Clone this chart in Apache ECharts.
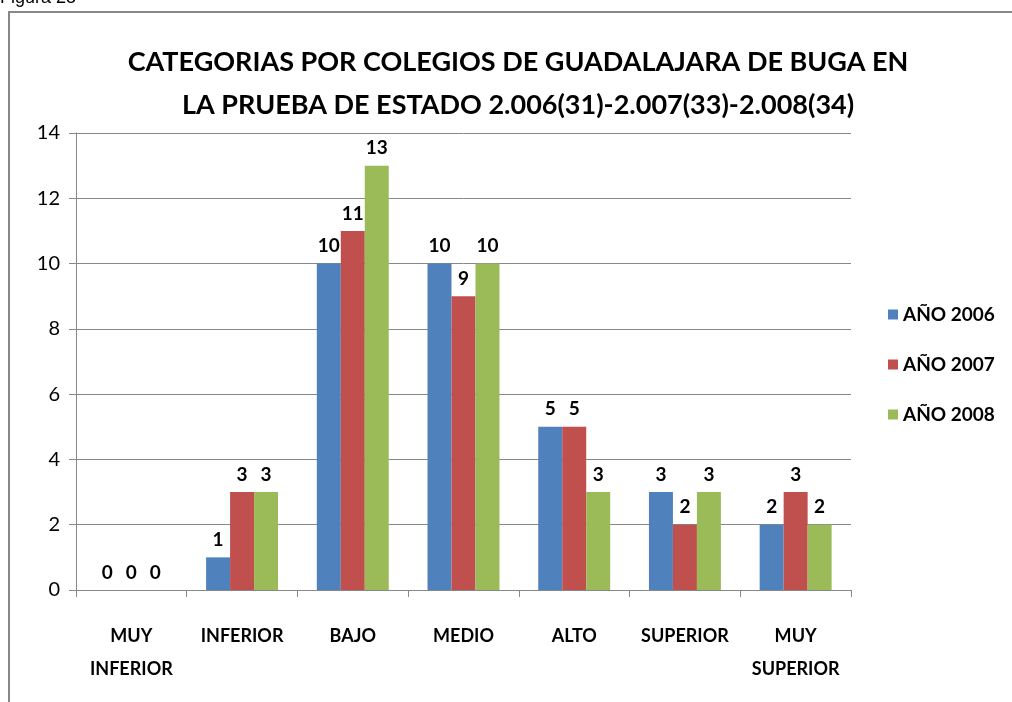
<!DOCTYPE html>
<html>
<head>
<meta charset="utf-8">
<script src="https://cdn.jsdelivr.net/npm/echarts@6/dist/echarts.min.js"></script>
<style>
  html, body { margin: 0; padding: 0; background: #fff; }
  #chart { width: 1012px; height: 702px; }
</style>
</head>
<body>
<div id="chart"></div>
<script>
// categorias del eje x
const categorias = ['MUY\nINFERIOR', 'INFERIOR', 'BAJO', 'MEDIO', 'ALTO', 'SUPERIOR', 'MUY\nSUPERIOR'];
// valores por año
const anio2006 = [0, 1, 10, 10, 5, 3, 2];
const anio2007 = [0, 3, 11, 9, 5, 2, 3];
const anio2008 = [0, 3, 13, 10, 3, 3, 2];
const nombres = ['AÑO 2006', 'AÑO 2007', 'AÑO 2008'];
const colores = ['#4f81bd', '#c0504d', '#9bbb59'];

const fuente = 'Lato, "Open Sans", sans-serif';

const myChart = echarts.init(document.getElementById('chart'));

// etiqueta de valor encima de cada barra
const etiqueta = {
  show: true,
  position: 'top',
  distance: 8,
  color: '#000',
  fontFamily: fuente,
  fontWeight: 'bold',
  fontSize: 19
};

const option = {
  animation: false,
  backgroundColor: '#fff',
  textStyle: { fontFamily: fuente },
  title: {
    text: 'CATEGORIAS POR COLEGIOS DE GUADALAJARA DE BUGA EN\nLA PRUEBA DE ESTADO 2.006(31)-2.007(33)-2.008(34)',
    left: 513,
    textAlign: 'center',
    top: 36,
    textStyle: {
      fontFamily: fuente,
      fontSize: 27,
      fontWeight: 'bold',
      color: '#000',
      lineHeight: 43
    }
  },
  legend: {
    orient: 'vertical',
    left: 883,
    top: 300,
    itemWidth: 10,
    itemHeight: 10,
    itemGap: 31,
    icon: 'rect',
    data: nombres,
    textStyle: { fontFamily: fuente, fontSize: 19, fontWeight: 'bold', color: '#000' }
  },
  grid: {
    left: 76,
    right: 161,
    top: 133,
    bottom: 112
  },
  xAxis: {
    type: 'category',
    data: categorias,
    axisLine: { lineStyle: { color: '#888' } },
    axisTick: { show: true, length: 7, lineStyle: { color: '#888' } },
    axisLabel: {
      interval: 0,
      color: '#000',
      fontFamily: fuente,
      fontSize: 18,
      fontWeight: 'bold',
      margin: 30,
      lineHeight: 33
    }
  },
  yAxis: {
    type: 'value',
    min: 0,
    max: 14,
    interval: 2,
    axisLine: { show: true, lineStyle: { color: '#888' } },
    axisTick: { show: true, length: 7, lineStyle: { color: '#888' } },
    splitLine: { lineStyle: { color: '#888', width: 1 } },
    axisLabel: {
      color: '#000',
      fontFamily: fuente,
      fontSize: 20,
      margin: 16
    }
  },
  series: [anio2006, anio2007, anio2008].map((valores, i) => ({
    name: nombres[i],
    type: 'bar',
    data: valores,
    barGap: '0%',
    barCategoryGap: '35%',
    itemStyle: { color: colores[i] },
    label: etiqueta
  })),
  graphic: [
    {
      type: 'text',
      left: 0,
      top: -11,
      style: { text: 'Figura 28', font: '18px "Liberation Sans", Arial, sans-serif', fill: '#000' }
    },
    {
      type: 'polyline',
      shape: { points: [[9, 702], [9, 12], [1012, 12]] },
      style: { stroke: '#888', lineWidth: 2, fill: null }
    }
  ]
};

myChart.setOption(option);
</script>
</body>
</html>
